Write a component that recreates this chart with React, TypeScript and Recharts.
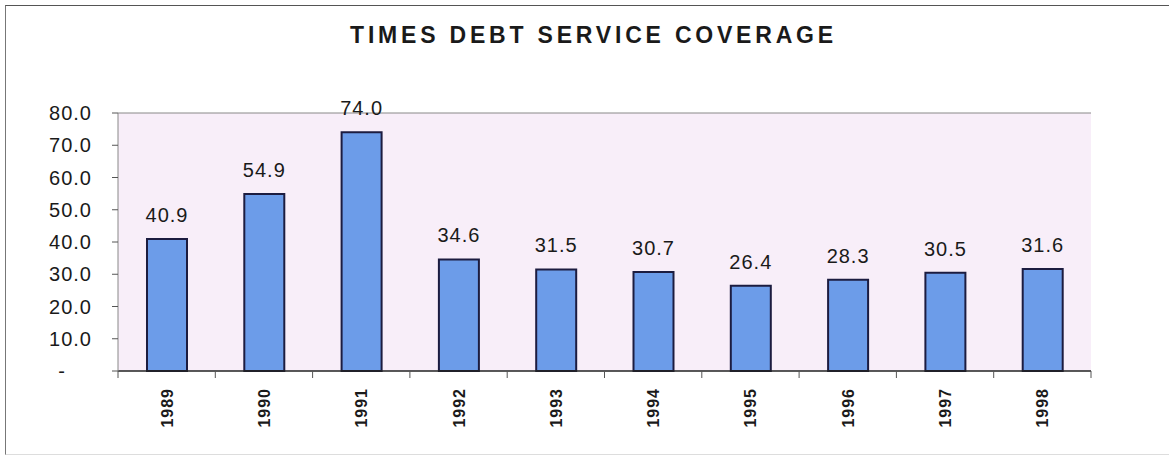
import React from "react";
import { BarChart, Bar, XAxis, YAxis, CartesianGrid, LabelList, ReferenceLine } from "recharts";

const years = ["1989", "1990", "1991", "1992", "1993", "1994", "1995", "1996", "1997", "1998"];
const coverage = [40.9, 54.9, 74.0, 34.6, 31.5, 30.7, 26.4, 28.3, 30.5, 31.6];
const yTicks = [0, 10, 20, 30, 40, 50, 60, 70, 80];

const data = years.map((y, i) => ({ year: y, value: coverage[i] }));

const W = 1169;
const H = 462;
const M = { top: 113, right: 78, bottom: 11, left: 0 };
const Y_W = 118;
const plotW = W - M.left - M.right - Y_W;
const halfBand = plotW / years.length / 2;

const font = "'Liberation Sans', Arial, Helvetica, sans-serif";

const XTick = (props: any) => {
  const { x, y, payload, index } = props;
  const top = y - 8;
  return (
    <g>
      <line x1={x - halfBand} x2={x - halfBand} y1={top} y2={top + 7} stroke="#555" strokeWidth={1} />
      {index === years.length - 1 && (
        <line x1={x + halfBand} x2={x + halfBand} y1={top} y2={top + 7} stroke="#555" strokeWidth={1} />
      )}
      <text
        x={0}
        y={0}
        transform={`translate(${x + 6},${top + 17}) rotate(-90)`}
        textAnchor="end"
        fontFamily={font}
        fontWeight="bold"
        fontSize={16}
        letterSpacing={1}
        fill="#1a1a1a"
      >
        {payload.value}
      </text>
    </g>
  );
};

const YTick = (props: any) => {
  const { x, y, payload } = props;
  const v = payload.value as number;
  return (
    <text
      x={v === 0 ? x - 26 : x}
      y={y}
      dy={7}
      textAnchor="end"
      fontFamily={font}
      fontSize={20}
      letterSpacing={1}
      fill="#1a1a1a"
    >
      {v === 0 ? "-" : v.toFixed(1)}
    </text>
  );
};

export default function App() {
  return (
    <div style={{ position: "absolute", left: 0, top: 0, width: W, height: H, background: "#fff", overflow: "hidden" }}>
      <div
        style={{
          position: "absolute",
          left: 5,
          top: 5,
          width: W,
          height: 448,
          borderTop: "1.5px solid #555",
          borderLeft: "1px solid #777",
          borderBottom: "1px solid #ddd",
        }}
      />
      <div
        style={{
          position: "absolute",
          left: 0,
          top: 22,
          width: W + 18,
          textAlign: "center",
          fontFamily: font,
          fontWeight: "bold",
          fontSize: 23,
          letterSpacing: 3.8,
          color: "#1a1a1a",
        }}
      >
        TIMES DEBT SERVICE COVERAGE
      </div>
      <div style={{ position: "absolute", left: 0, top: 0 }}>
        <BarChart width={W} height={H} data={data} margin={M} barSize={40}>
          <CartesianGrid horizontal={false} vertical={false} fill="#f8eef9" stroke="none" />
          <ReferenceLine y={80} stroke="#888" strokeWidth={1} />
          <XAxis
            dataKey="year"
            height={80}
            tickLine={false}
            axisLine={{ stroke: "#222", strokeWidth: 1.5 }}
            tick={<XTick />}
            interval={0}
          />
          <YAxis
            width={Y_W}
            domain={[0, 80]}
            ticks={yTicks}
            interval={0}
            tickSize={6}
            tickMargin={20}
            tickLine={{ stroke: "#555" }}
            axisLine={{ stroke: "#888" }}
            tick={<YTick />}
          />
          <YAxis yAxisId="r" orientation="right" width={0} tick={false} tickLine={false} axisLine={{ stroke: "#888" }} />
          <Bar dataKey="value" fill="#6c9ce9" stroke="#1c1c40" strokeWidth={2} isAnimationActive={false}>
            <LabelList
              dataKey="value"
              position="top"
              offset={17}
              formatter={(v: any) => Number(v).toFixed(1)}
              style={{ fontFamily: font, fontSize: 20, letterSpacing: 1, fill: "#1a1a1a" }}
            />
          </Bar>
        </BarChart>
      </div>
    </div>
  );
}
